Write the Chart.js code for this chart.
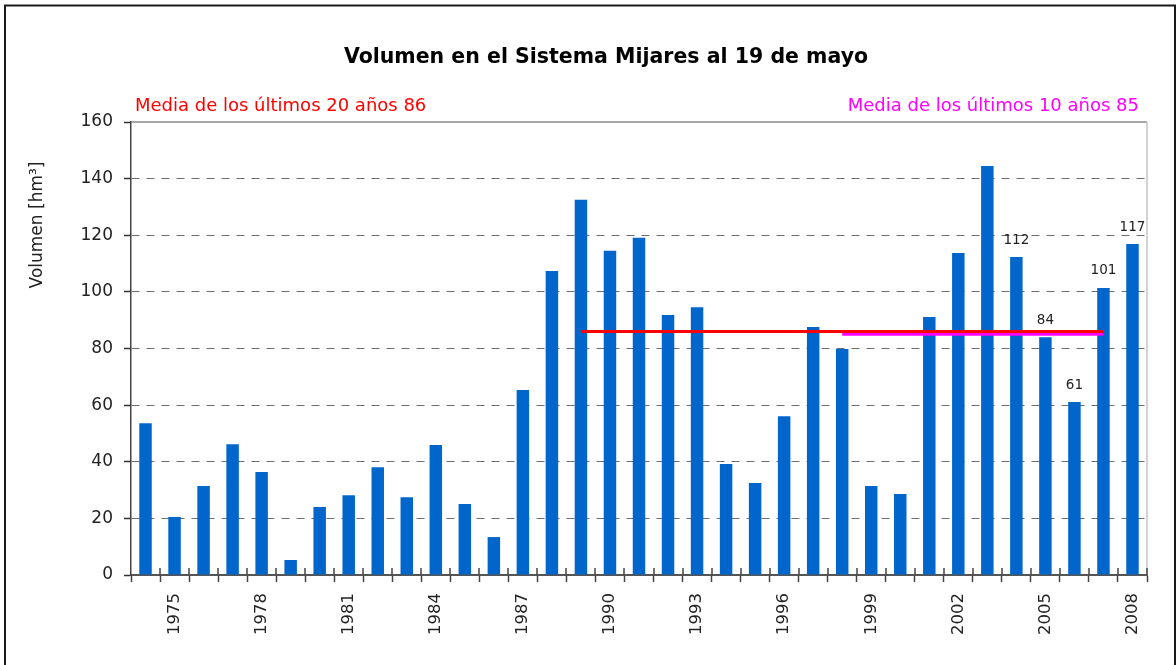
<!DOCTYPE html>
<html>
<head>
<meta charset="utf-8">
<title>Volumen en el Sistema Mijares</title>
<script src="https://cdn.jsdelivr.net/npm/chart.js@4"></script>
<style>
    html, body { margin: 0; padding: 0; background: #fff; }
    #wrap { position: relative; width: 1176px; height: 665px; }
</style>
</head>
<body>
<div id="wrap"><canvas id="volChart"></canvas></div>
<script>
const years = ['1974', '1975', '1976', '1977', '1978', '1979', '1980', '1981', '1982', '1983',
    '1984', '1985', '1986', '1987', '1988', '1989', '1990', '1991', '1992', '1993',
    '1994', '1995', '1996', '1997', '1998', '1999', '2000', '2001', '2002', '2003',
    '2004', '2005', '2006', '2007', '2008'];

// hm3 on 19 May of each year
const volumes = [53.6, 20.5, 31.4, 46.2, 36.4, 5.3, 24.0, 28.2, 38.1, 27.5,
    45.9, 25.1, 13.4, 65.3, 107.4, 132.5, 114.5, 119.1, 91.8, 94.6,
    39.2, 32.5, 56.1, 87.6, 79.8, 31.4, 28.6, 91.1, 113.7, 144.5,
    112.3, 84.0, 61.1, 101.4, 116.9];

// value labels shown over the last bars only
const barLabels = [null, null, null, null, null, null, null, null, null, null,
    null, null, null, null, null, null, null, null, null, null,
    null, null, null, null, null, null, null, null, null, null,
    '112', '84', '61', '101', '117'];

// 20-year mean (1989-2007) and 10-year mean (1998-2007)
const mean20 = [null, null, null, null, null, null, null, null, null, null,
    null, null, null, null, null, 86, 86, 86, 86, 86,
    86, 86, 86, 86, 86, 86, 86, 86, 86, 86,
    86, 86, 86, 86, null];
const mean10 = [null, null, null, null, null, null, null, null, null, null,
    null, null, null, null, null, null, null, null, null, null,
    null, null, null, null, 85, 85, 85, 85, 85, 85,
    85, 85, 85, 85, null];

const titleText = 'Volumen en el Sistema Mijares al 19 de mayo';
const mean20Text = 'Media de los últimos 20 años 86';
const mean10Text = 'Media de los últimos 10 años 85';
const yTitleText = 'Volumen [hm³]';

Chart.defaults.font.family = "'DejaVu Sans', sans-serif";
Chart.defaults.color = '#222';

const decorations = {
    id: 'decorations',
    afterDatasetsDraw(chart) {
        const { ctx, chartArea: a } = chart;
        ctx.save();

        // top and right edge of the plot area
        ctx.lineWidth = 1.5;
        ctx.strokeStyle = '#8a8a8a';
        ctx.beginPath();
        ctx.moveTo(a.left, a.top);
        ctx.lineTo(a.right, a.top);
        ctx.stroke();
        ctx.strokeStyle = '#c4c4c4';
        ctx.beginPath();
        ctx.moveTo(a.right, a.top);
        ctx.lineTo(a.right, a.bottom);
        ctx.stroke();

        // x tick marks also cross into the plot
        const step = (a.right - a.left) / years.length;
        ctx.strokeStyle = '#444';
        ctx.lineWidth = 1.5;
        for (let i = 1; i <= years.length; i++) {
            const px = Math.round(a.left + i * step);
            ctx.beginPath();
            ctx.moveTo(px, a.bottom - 7);
            ctx.lineTo(px, a.bottom);
            ctx.stroke();
        }

        // bar value labels
        ctx.fillStyle = '#222';
        ctx.font = "13.5px 'DejaVu Sans'";
        ctx.textAlign = 'center';
        ctx.textBaseline = 'alphabetic';
        chart.getDatasetMeta(0).data.forEach((bar, i) => {
            if (barLabels[i]) ctx.fillText(barLabels[i], bar.x, bar.y - 13.5);
        });
        ctx.restore();
    },
    afterDraw(chart) {
        const ctx = chart.ctx;
        ctx.save();

        // outer frame
        ctx.strokeStyle = '#1a1a1a';
        ctx.lineWidth = 2;
        ctx.strokeRect(5, 5.5, 1170, 720);

        ctx.textBaseline = 'alphabetic';
        ctx.fillStyle = '#000';
        ctx.font = "bold 20.5px 'DejaVu Sans'";
        ctx.textAlign = 'center';
        ctx.fillText(titleText, 606, 63);

        ctx.font = "18px 'DejaVu Sans'";
        ctx.fillStyle = '#ff0000';
        ctx.textAlign = 'left';
        ctx.fillText(mean20Text, 135, 110.5);
        ctx.fillStyle = '#ff00ff';
        ctx.textAlign = 'right';
        ctx.fillText(mean10Text, 1139, 111);

        // y axis title
        ctx.translate(38, 225);
        ctx.rotate(-Math.PI / 2);
        ctx.fillStyle = '#222';
        ctx.font = "17px 'DejaVu Sans'";
        ctx.textAlign = 'center';
        ctx.textBaseline = 'middle';
        ctx.fillText(yTitleText, 0, 0);
        ctx.restore();
    }
};

new Chart(document.getElementById('volChart'), {
    type: 'bar',
    data: {
        labels: years,
        datasets: [
            {
                label: 'Volumen',
                data: volumes,
                backgroundColor: '#0066cc',
                categoryPercentage: 1,
                barPercentage: 0.43,
                order: 1
            },
            {
                type: 'line',
                label: 'Media 20 años',
                data: mean20,
                borderColor: '#ff0000',
                borderWidth: 3,
                pointRadius: 0,
                fill: false,
                order: 0
            },
            {
                type: 'line',
                label: 'Media 10 años',
                data: mean10,
                borderColor: '#ff00ff',
                borderWidth: 3,
                pointRadius: 0,
                fill: false,
                order: 0
            }
        ]
    },
    options: {
        responsive: true,
        maintainAspectRatio: false,
        animation: false,
        layout: {
            padding: { top: 122, right: 29, bottom: 0, left: 0 }
        },
        plugins: {
            legend: { display: false },
            tooltip: { enabled: false }
        },
        scales: {
            x: {
                afterFit: s => { s.height = 90; },
                grid: {
                    drawOnChartArea: false,
                    tickLength: 7,
                    tickColor: '#444',
                    tickWidth: 1.5
                },
                border: { color: '#555', width: 2 },
                ticks: {
                    autoSkip: false,
                    minRotation: 90,
                    maxRotation: 90,
                    padding: 11,
                    font: { size: 16.5 },
                    color: '#222',
                    callback: (v, i) => (i % 3 === 1 ? years[i] : '')
                }
            },
            y: {
                min: 0,
                max: 160,
                afterFit: s => { s.width = 131; },
                grid: {
                    color: ctx => (ctx.tick && (ctx.tick.value === 0 || ctx.tick.value === 160)) ? 'rgba(0,0,0,0)' : '#6e6e6e',
                    lineWidth: 1,
                    tickLength: 7,
                    tickColor: '#333',
                    tickWidth: 1.5
                },
                border: { color: '#444', width: 1.5, dash: [8, 7] },
                ticks: {
                    stepSize: 20,
                    padding: 11,
                    font: { size: 17 },
                    color: '#222'
                }
            }
        }
    },
    plugins: [decorations]
});
</script>
</body>
</html>
